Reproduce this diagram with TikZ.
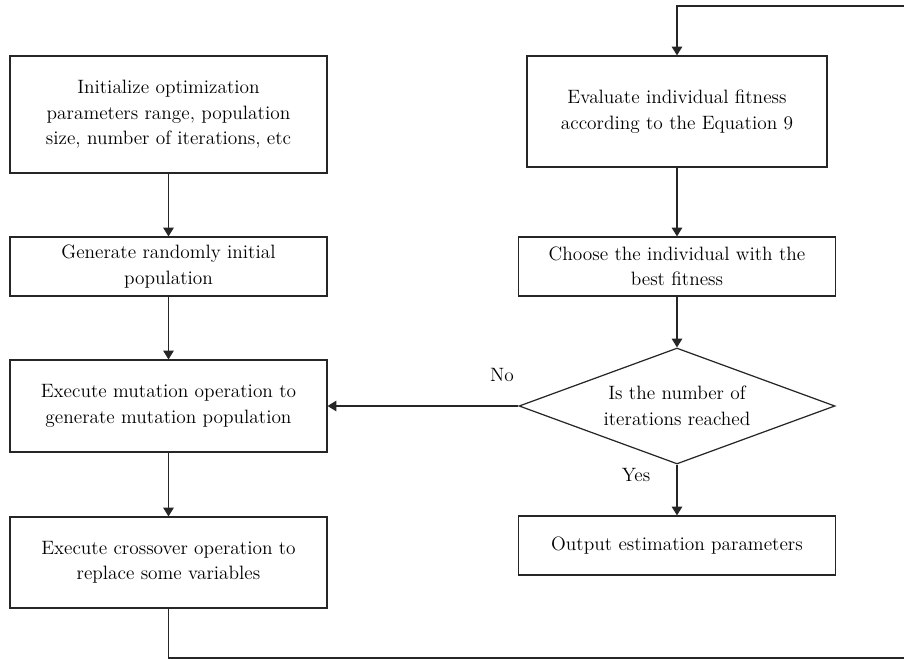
\documentclass[tikz,border=0pt]{standalone}
\usepackage{amsmath,amssymb}
\usepackage{tikz}
\usetikzlibrary{arrows.meta,shapes.geometric}

\tikzset{
  proc/.style={draw=black!85,line width=0.7pt,rectangle,align=center,inner sep=2pt,
    font=\fontsize{11}{14.5}\selectfont},
  decide/.style={draw=black!85,line width=0.7pt,diamond,align=center,inner sep=0pt,
    shape aspect=2.72,minimum width=6.32cm,minimum height=2.32cm,
    font=\fontsize{11}{14.5}\selectfont},
  arr/.style={line width=0.7pt,black!85,-{Triangle[length=5pt,width=6pt]}},
  lbl/.style={font=\fontsize{11}{14.5}\selectfont}
}

\begin{document}
\begin{tikzpicture}[x=0.02cm,y=-0.02cm]
  \useasboundingbox (0,0) rectangle (904,659);
  % left column
  \node[proc,minimum width=6.34cm,minimum height=2.34cm] (init) at (168.5,114.5)
    {Initialize optimization\\parameters range, population\\size, number of iterations, etc};
  \node[proc,minimum width=6.34cm,minimum height=1.18cm] (gen) at (168.5,266.5)
    {Generate randomly initial\\population};
  \node[proc,minimum width=6.34cm,minimum height=1.84cm] (mut) at (168.5,406)
    {Execute mutation operation to\\generate mutation population};
  \node[proc,minimum width=6.34cm,minimum height=1.82cm] (cross) at (168.5,562.5)
    {Execute crossover operation to\\replace some variables};
  % right column
  \node[proc,minimum width=6.0cm,minimum height=2.22cm] (eval) at (677,111.5)
    {Evaluate individual fitness\\according to the Equation 9};
  \node[proc,minimum width=6.34cm,minimum height=1.18cm] (best) at (677,266.5)
    {Choose the individual with the\\best fitness};
  \node[decide] (check) at (677,406) {Is the number of\\iterations reached};
  \node[proc,minimum width=6.34cm,minimum height=1.18cm] (out) at (677,545.5)
    {Output estimation parameters};
  \coordinate (c1) at (168.5,658);
  \coordinate (c2) at (910,658);
  \coordinate (c3) at (910,6);
  \coordinate (c4) at (677,6);

  \draw[arr] (init) -- (gen);
  \draw[arr] (gen) -- (mut);
  \draw[arr] (mut) -- (cross);
  \draw[arr] (cross.south) -- (c1) -- (c2) -- (c3) -- (c4) -- (eval.north);
  \draw[arr] (eval) -- (best);
  \draw[arr] (best) -- (check);
  \draw[arr] (check.west) -- (mut.east);
  \draw[arr] (check.south) -- (out.north);
  \node[lbl] (no) at (502,375) {No};
  \node[lbl] (yes) at (636,475) {Yes};
\end{tikzpicture}
\end{document}
